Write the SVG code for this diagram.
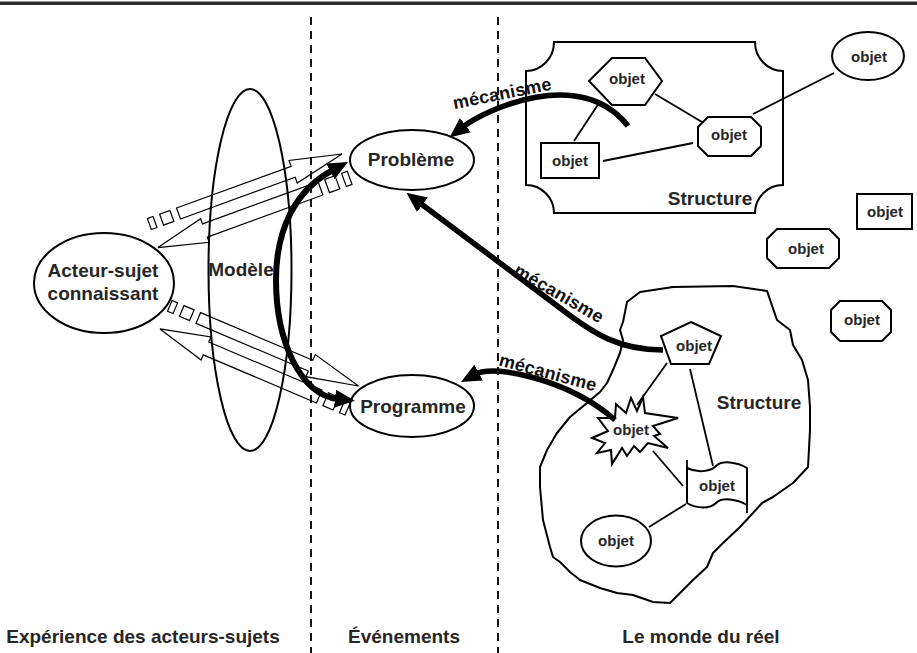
<svg xmlns="http://www.w3.org/2000/svg" width="917" height="653" viewBox="0 0 917 653">
<defs>
<style>
text{font-family:"Liberation Sans",Arial,sans-serif;font-weight:bold;fill:#262626;text-anchor:middle}
.lbl{font-size:19px}
.obj{font-size:15px}
.mec{font-size:18px;fill:#111}
.shape{fill:#fff;stroke:#000;stroke-width:2}
.ln{stroke:#000;stroke-width:1.8;fill:none}
.dash{stroke:#111;stroke-width:2;stroke-dasharray:8 6;fill:none}
.blk{fill:none;stroke:#000;stroke-width:1.2}
.thick{fill:none;stroke:#000;stroke-width:6}
.mech{fill:none;stroke:#000;stroke-width:5.5}
</style>
<marker id="ah" viewBox="0 0 20 18" refX="3" refY="9" markerWidth="20" markerHeight="18" markerUnits="userSpaceOnUse" orient="auto-start-reverse">
<path d="M0,0 L20,9 L0,18 Z" fill="#000"/>
</marker>
<g id="pair" class="blk">
<path d="M0,-5.8 H122 V-12 L174,0 L122,12 V5.8 H0 Z"/>
<rect x="-18" y="-5.8" width="11" height="11.6"/>
<rect x="-31" y="-5.8" width="6" height="11.6"/>
<path d="M-31,25 L19,12.5 V18 H142 V32 H19 V37.5 Z"/>
<rect x="149" y="18" width="11" height="14"/>
<rect x="167" y="18" width="6" height="14"/>
</g>
</defs>

<rect x="0" y="1.5" width="917" height="3.5" fill="#2d2d2d"/>

<g id="separators">
<line class="dash" x1="311" y1="17" x2="311" y2="653"/>
<line class="dash" x1="498" y1="17" x2="498" y2="653"/>
</g>

<g id="modele">
<ellipse cx="250" cy="270" rx="41.5" ry="181" fill="none" stroke="#000" stroke-width="2"/>
<text class="lbl" x="241" y="276">Modèle</text>
</g>

<g id="acteur">
<ellipse class="shape" cx="104" cy="283" rx="70" ry="50"/>
<text class="lbl" x="103" y="277">Acteur-sujet</text>
<text class="lbl" x="103" y="300">connaissant</text>
</g>

<g id="block-arrows">
<use href="#pair" transform="translate(178.5,213.5) rotate(-20)"/>
<use href="#pair" transform="translate(198.3,318) rotate(23)"/>
</g>

<g id="probleme">
<ellipse class="shape" cx="412" cy="160" rx="62" ry="30"/>
<text class="lbl" x="411" y="166">Problème</text>
</g>

<g id="programme">
<ellipse class="shape" cx="412" cy="406" rx="62" ry="31"/>
<text class="lbl" x="413" y="413">Programme</text>
</g>

<g id="structure-top">
<path class="shape" d="M554,42 H755 A28,29 0 0 0 783,71 V185 A28,28 0 0 0 755,213 H554 A28,28 0 0 0 526,185 V71 A28,29 0 0 0 554,42 Z"/>
<text class="lbl" x="710" y="205">Structure</text>
</g>

<g id="structure-bottom">
<polygon class="shape" stroke-linejoin="round" points="627,302 640,292 673,287 733,286 767,291 777,320 790,330 793,345 802,360 808,380 810,407 810,430 808,467 793,483 773,497 762,503 753,513 740,527 723,543 713,553 707,567 693,580 680,593 670,603 653,602 633,595 617,593 600,588 580,580 570,572 560,562 553,557 550,547 543,520 540,487 540,467 547,450 557,433 570,417 587,403 600,392 607,383 613,370 620,353 623,340 620,330 623,322 625,312"/>
<text class="lbl" x="759" y="409">Structure</text>
</g>

<g id="object-links">
<line class="ln" x1="599" y1="103" x2="574" y2="141"/>
<line class="ln" x1="655" y1="94" x2="702" y2="122"/>
<line class="ln" x1="603" y1="161" x2="693" y2="143"/>
<line class="ln" x1="753" y1="114" x2="834" y2="73"/>
<line class="ln" x1="667" y1="363" x2="637" y2="405"/>
<line class="ln" x1="690" y1="369" x2="713" y2="466"/>
<line class="ln" x1="653" y1="451" x2="683" y2="486"/>
<line class="ln" x1="686" y1="504" x2="649" y2="527"/>
</g>

<g id="objet-hexagon">
<polygon class="shape" points="589,81 612,58 645,58 662,81 645,105 612,105"/>
<text class="obj" x="627" y="84">objet</text>
</g>
<g id="objet-rect">
<rect class="shape" x="541" y="143" width="58" height="35"/>
<text class="obj" x="570" y="166">objet</text>
</g>
<g id="objet-octagon">
<polygon class="shape" points="708,117 751,117 761,127 761,146 751,156 708,156 698,146 698,127"/>
<text class="obj" x="729" y="140">objet</text>
</g>
<g id="objet-ellipse-top">
<ellipse class="shape" cx="868" cy="56" rx="36" ry="24"/>
<text class="obj" x="869" y="62">objet</text>
</g>
<g id="objet-rect-right">
<rect class="shape" x="857" y="194" width="55" height="35"/>
<text class="obj" x="885" y="217">objet</text>
</g>
<g id="objet-octagon-2">
<polygon class="shape" points="777,229 829,229 839,239 839,258 829,268 777,268 767,258 767,239"/>
<text class="obj" x="806" y="254">objet</text>
</g>
<g id="objet-octagon-3">
<polygon class="shape" points="840,301 882,301 891,310 891,332 882,341 840,341 831,332 831,310"/>
<text class="obj" x="862" y="325">objet</text>
</g>
<g id="objet-pentagon">
<polygon class="shape" points="691,322 721,336 709,364 671,364 661,336"/>
<text class="obj" x="694" y="351">objet</text>
</g>
<g id="objet-star">
<polygon class="shape" points="592,438 608,431 598,418 615,418 616,404 626,413 631,398 637,411 643,397 645,413 678,418 653,426 660,434 654,436 668,448 648,443 640,452 634,446 627,456 622,448 612,464 611,450 597,453 605,443"/>
<text class="obj" x="631" y="435">objet</text>
</g>
<g id="objet-flag">
<path class="shape" d="M687,468 C697,473 710,472 716,466 C722,460 737,462 747,468 L747,505 C737,499 722,497 716,503 C710,509 697,509 687,503 Z"/>
<path class="ln" stroke-width="2" d="M687,460 V468 M747,505 V513"/>
<text class="obj" x="717" y="491">objet</text>
</g>
<g id="objet-ellipse-bottom">
<ellipse class="shape" cx="616" cy="541" rx="35" ry="25.5"/>
<text class="obj" x="616" y="546">objet</text>
</g>

<g id="connectors">
<path class="thick" marker-start="url(#ah)" marker-end="url(#ah)" d="M333,170 C295,190 276,230 276,280 C276,340 300,395 338,399"/>
<path class="mech" marker-end="url(#ah)" d="M628,126 C580,65 485,110 463,127"/>
<path class="mech" marker-end="url(#ah)" d="M663,350 C620,350 595,335 560,308 L420,203"/>
<path class="mech" marker-end="url(#ah)" d="M615,420 C570,380 495,364 476,374"/>
<text class="mec" transform="translate(502,93) rotate(-11.5)" x="0" y="6.5" textLength="100">mécanisme</text>
<text class="mec" transform="translate(559,293) rotate(30)" x="0" y="6.5" textLength="100">mécanisme</text>
<text class="mec" transform="translate(548,372) rotate(15)" x="0" y="6.5" textLength="100">mécanisme</text>
</g>

<g id="zone-labels">
<text class="lbl" x="143" y="643">Expérience des acteurs-sujets</text>
<text class="lbl" x="404" y="643">Événements</text>
<text class="lbl" x="701" y="643">Le monde du réel</text>
</g>
</svg>
